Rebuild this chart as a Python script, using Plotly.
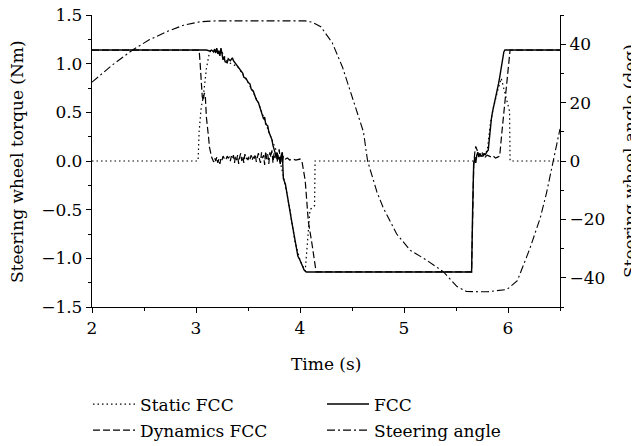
import plotly.graph_objects as go

# ---- data ----
fcc_t = [2.00, 3.05, 3.10, 3.13, 3.15, 3.17, 3.18, 3.19, 3.20, 3.21, 3.22, 3.23, 3.24, 3.25,
         3.26, 3.27, 3.28, 3.30, 3.31, 3.33, 3.35, 3.36, 3.38, 3.40, 3.41, 3.43, 3.45, 3.46,
         3.48, 3.50, 3.52, 3.53, 3.55, 3.57, 3.58, 3.60, 3.62, 3.63, 3.65, 3.66, 3.67, 3.68,
         3.69, 3.70, 3.72, 3.73, 3.74, 3.75, 3.76, 3.77, 3.78, 3.79, 3.80, 3.81, 3.82, 3.83,
         3.835, 3.84, 3.86, 3.88, 3.89, 3.90, 3.92, 3.93, 3.95, 3.96, 3.98, 4.00, 4.02, 4.04,
         4.06, 5.65, 5.66, 5.67, 5.68, 5.69, 5.70, 5.71, 5.72, 5.73, 5.74, 5.76, 5.77, 5.78,
         5.80, 5.81, 5.82, 5.83, 5.84, 5.85, 5.86, 5.87, 5.88, 5.89, 5.90, 5.91, 5.92, 5.93,
         5.94, 5.95, 5.96, 5.97, 6.50]
fcc_v = [1.14, 1.14, 1.14, 1.13, 1.14, 1.12, 1.15, 1.11, 1.16, 1.10, 1.13, 1.08, 1.16, 1.10,
         1.04, 1.07, 1.02, 1.01, 1.05, 1.03, 1.06, 1.03, 1.00, 0.97, 0.95, 0.92, 0.90, 0.86,
         0.85, 0.81, 0.79, 0.74, 0.72, 0.66, 0.63, 0.60, 0.53, 0.50, 0.43, 0.45, 0.38, 0.37,
         0.36, 0.30, 0.24, 0.22, 0.16, 0.12, 0.09, 0.05, 0.08, 0.02, 0.04, -0.03, 0.06, 0.09,
         -0.05, -0.18, -0.24, -0.38, -0.46, -0.48, -0.62, -0.68, -0.82, -0.88, -0.98, -1.02, -1.08, -1.12,
         -1.14, -1.14, -0.50, -0.03, 0.03, -0.02, 0.06, 0.09, 0.04, 0.08, 0.05, 0.05, 0.08, 0.06,
         0.10, 0.11, 0.22, 0.38, 0.43, 0.50, 0.55, 0.58, 0.63, 0.69, 0.72, 0.80, 0.86, 0.93,
         1.02, 1.09, 1.12, 1.14, 1.14]

dyn_t = [2.00, 3.03, 3.04, 3.05, 3.06, 3.07, 3.08, 3.09, 3.10, 3.12, 3.13, 3.15, 3.16, 3.17,
         3.18, 3.19, 3.20, 3.21, 3.22, 3.23, 3.24, 3.25, 3.26, 3.27, 3.28, 3.29, 3.30, 3.31,
         3.32, 3.33, 3.34, 3.35, 3.36, 3.37, 3.38, 3.39, 3.40, 3.41, 3.42, 3.43, 3.44, 3.45,
         3.46, 3.47, 3.48, 3.49, 3.50, 3.51, 3.52, 3.53, 3.54, 3.55, 3.56, 3.57, 3.58, 3.59,
         3.60, 3.61, 3.62, 3.63, 3.64, 3.65, 3.66, 3.67, 3.68, 3.69, 3.70, 3.71, 3.72, 3.73,
         3.74, 3.75, 3.76, 3.77, 3.78, 3.79, 3.80, 3.81, 3.82, 3.83, 3.84, 3.85, 3.86, 3.88,
         3.90, 3.93, 3.96, 4.00, 4.02, 4.05, 4.08, 4.115, 4.144, 4.155, 5.65, 5.66, 5.67, 5.68,
         5.69, 5.70, 5.72, 5.74, 5.76, 5.78, 5.80, 5.82, 5.84, 5.86, 5.88, 5.90, 5.92, 5.94,
         5.97, 6.00, 6.02, 6.50]
dyn_v = [1.14, 1.14, 1.00, 0.82, 0.66, 0.62, 0.70, 0.66, 0.45, 0.25, 0.14, 0.04, 0.02, -0.01,
         0.03, 0.00, 0.04, -0.02, 0.02, -0.03, 0.03, 0.01, 0.05, 0.03, 0.04, 0.02, 0.05, 0.03,
         0.04, 0.00, 0.05, 0.02, 0.06, -0.02, 0.05, 0.01, 0.06, -0.03, 0.04, 0.08, 0.00, 0.05,
         -0.02, 0.07, 0.02, 0.03, 0.01, 0.05, 0.02, 0.06, 0.01, 0.04, 0.03, 0.07, -0.01, 0.05,
         0.08, 0.02, -0.02, 0.09, 0.03, 0.06, -0.04, 0.10, 0.02, 0.07, -0.03, 0.09, 0.04, 0.11,
         -0.02, 0.08, 0.03, 0.10, -0.01, 0.06, 0.12, 0.01, 0.07, -0.03, 0.05, 0.03, 0.02, 0.03,
         0.01, 0.02, 0.01, 0.02, -0.01, -0.20, -0.62, -0.85, -1.03, -1.14, -1.14, -0.60, -0.05, 0.08,
         0.15, 0.12, 0.06, 0.05, 0.07, 0.04, 0.06, 0.05, 0.04, 0.05, 0.03, 0.04, 0.05, 0.28,
         0.61, 0.99, 1.14, 1.14]

static_t = [2.00, 3.02, 3.03, 3.05, 3.07, 3.10, 3.13, 3.16, 3.25, 3.30, 3.40, 3.50, 3.60, 3.70,
            3.80, 3.84, 3.90, 3.95, 4.00, 4.05, 4.067, 4.096, 4.14, 4.145, 5.65, 5.67, 5.70, 5.80,
            5.83, 5.86, 5.90, 5.935, 6.015, 6.02, 6.50]
static_v = [0.00, 0.00, 0.30, 0.55, 0.66, 0.95, 1.12, 1.14, 1.12, 1.02, 0.97, 0.81, 0.60, 0.30,
            0.03, -0.15, -0.48, -0.82, -1.02, -1.13, -0.90, -0.50, -0.46, 0.00, 0.00, 0.00, 0.06, 0.10,
            0.38, 0.55, 0.72, 0.85, 0.51, 0.00, 0.00]

angle_t = [2.00, 2.08, 2.20, 2.39, 2.55, 2.72, 2.88, 3.04, 3.20, 4.05, 4.12, 4.20, 4.31, 4.41,
           4.51, 4.61, 4.65, 4.74, 4.80, 4.93, 5.06, 5.22, 5.38, 5.51, 5.60, 5.80, 5.99, 6.09,
           6.21, 6.31, 6.37, 6.43, 6.48, 6.50]
angle_v = [27.0, 29.5, 33.0, 38.0, 41.5, 44.3, 46.5, 47.7, 48.0, 48.0, 47.5, 46.0, 40.5, 32.0,
           21.0, 10.0, 0.0, -10.6, -16.0, -25.0, -30.6, -34.0, -38.0, -43.0, -44.7, -44.8, -44.0, -41.0,
           -30.0, -19.5, -11.0, -0.5, 8.5, 11.0]

torque_ticks = [-1.5, -1.0, -0.5, 0.0, 0.5, 1.0, 1.5]
angle_ticks = [-40, -20, 0, 20, 40]
time_ticks = [2, 3, 4, 5, 6]

FONT = "DejaVu Serif"
FS = 17

fig = go.Figure()
fig.add_trace(go.Scatter(x=static_t, y=static_v, mode="lines", name="Static FCC",
                         line=dict(color="black", width=1.2, dash="1.5px,3px"),
                         legend="legend", legendgroup="a"))
fig.add_trace(go.Scatter(x=dyn_t, y=dyn_v, mode="lines", name="Dynamics FCC",
                         line=dict(color="black", width=1.2, dash="7px,3px"),
                         legend="legend", legendgroup="b"))
fig.add_trace(go.Scatter(x=fcc_t, y=fcc_v, mode="lines", name="FCC",
                         line=dict(color="black", width=1.4),
                         legend="legend2", legendgroup="c"))
fig.add_trace(go.Scatter(x=angle_t, y=angle_v, mode="lines", name="Steering angle",
                         line=dict(color="black", width=1.1, dash="8px,3px,2px,3px"),
                         yaxis="y2", legend="legend2", legendgroup="d"))

axis_common = dict(showline=True, linecolor="black", linewidth=1.3, ticks="outside",
                   ticklen=5, tickwidth=1.2, tickcolor="black", showgrid=False, zeroline=False,
                   automargin=False, ticklabeloverflow="allow",
                   tickfont=dict(family=FONT, size=FS, color="black"))

title_font = dict(family=FONT, size=FS, color="black")

# the page body adds an 8px offset, so the figure margins are reduced by 8px
fig.update_layout(
    width=639, height=446,
    margin=dict(l=84, r=87, t=7, b=146),
    paper_bgcolor="white", plot_bgcolor="white",
    font=dict(family=FONT, size=FS, color="black"),
    xaxis=dict(range=[2, 6.5], tickvals=time_ticks,
               minor=dict(dtick=0.5, ticklen=3, tickcolor="black", ticks="outside"),
               **axis_common),
    yaxis=dict(range=[-1.5, 1.5], tickvals=torque_ticks, tickformat=".1f",
               minor=dict(dtick=0.25, ticklen=3, tickcolor="black", ticks="outside"),
               **axis_common),
    yaxis2=dict(range=[-50, 50], tickvals=angle_ticks, overlaying="y", side="right",
                minor=dict(dtick=10, ticklen=3, tickcolor="black", ticks="outside"),
                **axis_common),
    legend=dict(x=-0.0085, y=-0.268, xanchor="left", yanchor="top", tracegroupgap=1,
                itemwidth=42, font=dict(family=FONT, size=FS), bgcolor="rgba(0,0,0,0)"),
    legend2=dict(x=0.4915, y=-0.268, xanchor="left", yanchor="top", tracegroupgap=1,
                 itemwidth=42, font=dict(family=FONT, size=FS), bgcolor="rgba(0,0,0,0)"),
    annotations=[
        dict(text="Time (s)", xref="paper", yref="paper", x=0.5, y=-0.1945,
             xanchor="center", yanchor="middle", showarrow=False, font=title_font),
        dict(text="Steering wheel torque (Nm)", xref="paper", yref="paper", x=-0.1603, y=0.5,
             xanchor="center", yanchor="middle", textangle=-90, showarrow=False, font=title_font),
        dict(text="Steering wheel angle (deg)", xref="paper", yref="paper", x=1.1496, y=0.5,
             xanchor="center", yanchor="middle", textangle=-90, showarrow=False, font=title_font),
    ],
)

fig.write_html("out.html")
